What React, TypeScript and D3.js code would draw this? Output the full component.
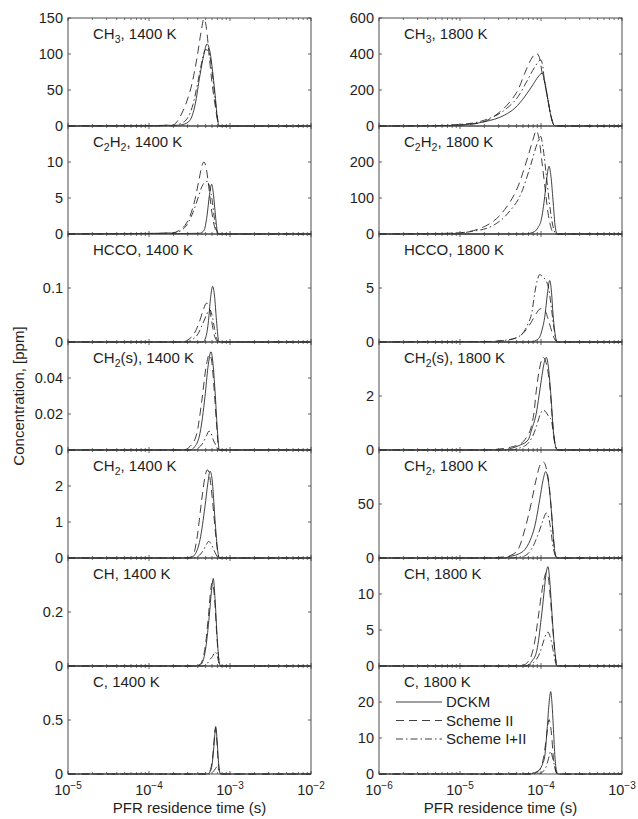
import React from "react";
import * as d3 from "d3";

// time points are log10(t / s), values are concentrations in ppm
const species = ["CH_3", "C_2H_2", "HCCO", "CH_2(s)", "CH_2", "CH", "C"];
const temps = ["1400 K", "1800 K"];
const decades1400 = [-5, -4, -3, -2];
const decades1800 = [-6, -5, -4, -3];
const yMax1400 = [150, 15, 0.2, 0.06, 3, 0.4, 1];
const yMax1800 = [600, 300, 10, 4, 100, 15, 30];
const yTicks1400 = [[0, 50, 100, 150], [0, 5, 10], [0, 0.1], [0, 0.02, 0.04], [0, 1, 2], [0, 0.2], [0, 0.5]];
const yTicks1800 = [[0, 200, 400, 600], [0, 100, 200], [0, 5], [0, 2], [0, 50], [0, 5, 10], [0, 10, 20]];
const seriesNames = ["DCKM", "Scheme II", "Scheme I+II"];

type Pt = [number, number];

// ---- 1400 K ----
const ch3_1400_dckm: Pt[] = [[-3.864, 0.3], [-3.778, 1.2], [-3.704, 0.6], [-3.642, 1], [-3.58, 2], [-3.494, 8], [-3.432, 29], [-3.37, 71], [-3.321, 100], [-3.284, 114], [-3.247, 103], [-3.21, 71], [-3.179, 38], [-3.157, 12], [-3.132, 0]];
const ch3_1400_s2: Pt[] = [[-3.716, 1], [-3.654, 6], [-3.593, 18], [-3.531, 35], [-3.469, 59], [-3.407, 95], [-3.358, 130], [-3.321, 149], [-3.29, 135], [-3.259, 100], [-3.222, 60], [-3.185, 30], [-3.154, 8], [-3.13, 0]];
const ch3_1400_s12: Pt[] = [[-3.716, 0.5], [-3.617, 3], [-3.531, 10], [-3.457, 30], [-3.395, 62], [-3.346, 90], [-3.302, 106], [-3.272, 105], [-3.235, 88], [-3.198, 52], [-3.16, 15], [-3.132, 0]];

const c2h2_1400_dckm: Pt[] = [[-3.864, 0.1], [-3.765, 0.15], [-3.679, 0.05], [-3.37, 0.1], [-3.321, 0.5], [-3.284, 2.5], [-3.253, 5.5], [-3.226, 6.9], [-3.204, 5.5], [-3.179, 2.5], [-3.154, 0.3], [-3.136, 0]];
const c2h2_1400_s2: Pt[] = [[-3.741, 0.1], [-3.642, 0.4], [-3.556, 1.2], [-3.494, 2.5], [-3.432, 4.8], [-3.383, 7.5], [-3.346, 9.5], [-3.321, 10], [-3.296, 9.3], [-3.272, 7.5], [-3.241, 4.5], [-3.21, 2], [-3.179, 0.6], [-3.148, 0]];
const c2h2_1400_s12: Pt[] = [[-3.716, 0.1], [-3.617, 0.4], [-3.531, 1.3], [-3.457, 3], [-3.395, 5], [-3.346, 6.6], [-3.309, 7.2], [-3.278, 7.3], [-3.247, 6.3], [-3.222, 4.8], [-3.198, 2.6], [-3.173, 0.8], [-3.148, 0]];

const hcco_1400_dckm: Pt[] = [[-3.333, 0], [-3.296, 0.01], [-3.265, 0.04], [-3.241, 0.08], [-3.214, 0.103], [-3.191, 0.085], [-3.167, 0.04], [-3.144, 0.005], [-3.13, 0]];
const hcco_1400_s2: Pt[] = [[-3.58, 0], [-3.519, 0.004], [-3.444, 0.015], [-3.383, 0.035], [-3.333, 0.058], [-3.29, 0.072], [-3.259, 0.065], [-3.228, 0.04], [-3.198, 0.015], [-3.167, 0.003], [-3.148, 0]];
const hcco_1400_s12: Pt[] = [[-3.543, 0], [-3.469, 0.004], [-3.395, 0.015], [-3.333, 0.035], [-3.284, 0.052], [-3.253, 0.06], [-3.222, 0.05], [-3.191, 0.025], [-3.16, 0.005], [-3.136, 0]];

const ch2s_1400_dckm: Pt[] = [[-3.494, 0], [-3.432, 0.002], [-3.37, 0.0094], [-3.309, 0.0296], [-3.272, 0.046], [-3.235, 0.0546], [-3.21, 0.048], [-3.185, 0.033], [-3.157, 0.012], [-3.132, 0]];
const ch2s_1400_s2: Pt[] = [[-3.58, 0], [-3.494, 0.002], [-3.411, 0.009], [-3.349, 0.027], [-3.296, 0.046], [-3.256, 0.053], [-3.228, 0.05], [-3.198, 0.035], [-3.167, 0.015], [-3.136, 0]];
const ch2s_1400_s12: Pt[] = [[-3.457, 0], [-3.395, 0.001], [-3.333, 0.004], [-3.29, 0.008], [-3.259, 0.0105], [-3.235, 0.0095], [-3.21, 0.006], [-3.179, 0.003], [-3.142, 0]];

const ch2_1400_dckm: Pt[] = [[-3.494, 0], [-3.432, 0.1], [-3.37, 0.51], [-3.309, 1.43], [-3.272, 2.1], [-3.247, 2.41], [-3.222, 2.2], [-3.185, 1.06], [-3.157, 0.3], [-3.132, 0]];
const ch2_1400_s2: Pt[] = [[-3.556, 0], [-3.461, 0.05], [-3.411, 0.5], [-3.349, 1.62], [-3.309, 2.25], [-3.28, 2.45], [-3.253, 2.3], [-3.216, 1.6], [-3.179, 0.7], [-3.142, 0.05], [-3.13, 0]];
const ch2_1400_s12: Pt[] = [[-3.444, 0], [-3.391, 0.05], [-3.333, 0.2], [-3.29, 0.38], [-3.265, 0.46], [-3.235, 0.4], [-3.204, 0.25], [-3.173, 0.1], [-3.142, 0]];

const ch_1400_dckm: Pt[] = [[-3.407, 0], [-3.362, 0.005], [-3.327, 0.025], [-3.296, 0.074], [-3.256, 0.185], [-3.228, 0.28], [-3.206, 0.324], [-3.185, 0.25], [-3.157, 0.1], [-3.136, 0.02], [-3.117, 0]];
const ch_1400_s2: Pt[] = [[-3.42, 0], [-3.37, 0.006], [-3.333, 0.03], [-3.302, 0.08], [-3.265, 0.19], [-3.235, 0.29], [-3.216, 0.31], [-3.191, 0.25], [-3.16, 0.1], [-3.136, 0.02], [-3.117, 0]];
const ch_1400_s12: Pt[] = [[-3.333, 0], [-3.284, 0.008], [-3.247, 0.025], [-3.216, 0.035], [-3.185, 0.052], [-3.16, 0.04], [-3.136, 0.01], [-3.117, 0]];

const c_1400_dckm: Pt[] = [[-3.296, 0], [-3.265, 0.005], [-3.247, 0.02], [-3.228, 0.06], [-3.214, 0.13], [-3.194, 0.3], [-3.177, 0.44], [-3.16, 0.32], [-3.144, 0.13], [-3.13, 0.03], [-3.115, 0]];
const c_1400_s2: Pt[] = [[-3.302, 0], [-3.272, 0.006], [-3.249, 0.025], [-3.231, 0.07], [-3.216, 0.14], [-3.198, 0.3], [-3.179, 0.42], [-3.163, 0.31], [-3.146, 0.12], [-3.13, 0.02], [-3.115, 0]];
const c_1400_s12: Pt[] = [[-3.247, 0], [-3.21, 0.02], [-3.179, 0.05], [-3.157, 0.07], [-3.136, 0.03], [-3.115, 0]];

// ---- 1800 K ----
const ch3_1800_dckm: Pt[] = [[-5.519, 0.2], [-5.312, 1], [-5.025, 5], [-4.695, 24], [-4.448, 61], [-4.321, 100], [-4.201, 163], [-4.099, 230], [-4.037, 272], [-3.988, 293], [-3.944, 225], [-3.914, 144], [-3.877, 55], [-3.84, 5], [-3.815, 0]];
const ch3_1800_s2: Pt[] = [[-5.519, 0.5], [-5.111, 3], [-4.778, 15], [-4.531, 70], [-4.367, 144], [-4.284, 200], [-4.201, 293], [-4.123, 370], [-4.058, 404], [-4.019, 380], [-3.988, 300], [-3.951, 235], [-3.914, 144], [-3.877, 55], [-3.84, 5], [-3.815, 0]];
const ch3_1800_s12: Pt[] = [[-5.519, 0.3], [-4.942, 11], [-4.695, 33], [-4.448, 89], [-4.284, 163], [-4.16, 260], [-4.074, 330], [-4.004, 367], [-3.981, 340], [-3.957, 250], [-3.914, 144], [-3.877, 55], [-3.84, 5], [-3.815, 0]];

const c2h2_1800_dckm: Pt[] = [[-4.198, 0], [-4.078, 7], [-4.037, 18], [-3.996, 40], [-3.954, 104], [-3.926, 160], [-3.901, 188], [-3.877, 160], [-3.852, 95], [-3.827, 25], [-3.808, 3], [-3.79, 0]];
const c2h2_1800_s2: Pt[] = [[-5.519, 0.5], [-5.025, 3], [-4.695, 21], [-4.448, 68], [-4.284, 132], [-4.16, 216], [-4.099, 262], [-4.058, 287], [-4.025, 265], [-3.988, 200], [-3.951, 130], [-3.914, 60], [-3.877, 18], [-3.84, 2], [-3.815, 0]];
const c2h2_1800_s12: Pt[] = [[-5.123, 1], [-4.86, 7], [-4.614, 21], [-4.407, 58], [-4.243, 114], [-4.12, 197], [-4.049, 250], [-4.004, 271], [-3.975, 240], [-3.938, 170], [-3.901, 95], [-3.864, 35], [-3.827, 4], [-3.802, 0]];

const hcco_1800_dckm: Pt[] = [[-4.123, 0], [-4.062, 0.15], [-4.016, 0.46], [-3.981, 1.3], [-3.954, 2.3], [-3.92, 4.5], [-3.893, 5.7], [-3.87, 4.6], [-3.852, 2.6], [-3.827, 0.8], [-3.811, 0.15], [-3.79, 0]];
const hcco_1800_s2: Pt[] = [[-4.614, 0.05], [-4.444, 0.15], [-4.284, 0.45], [-4.198, 1], [-4.123, 1.8], [-4.062, 2.6], [-4.0, 3.1], [-3.951, 2.9], [-3.907, 2], [-3.864, 0.9], [-3.827, 0.2], [-3.802, 0]];
const hcco_1800_s12: Pt[] = [[-4.614, 0.05], [-4.448, 0.15], [-4.284, 0.46], [-4.16, 1.7], [-4.111, 2.8], [-4.078, 4.5], [-4.043, 5.8], [-4.016, 6.24], [-3.975, 6.0], [-3.932, 5.6], [-3.901, 4.8], [-3.873, 3.2], [-3.846, 1.6], [-3.821, 0.4], [-3.802, 0]];

const ch2s_1800_dckm: Pt[] = [[-4.444, 0], [-4.367, 0.06], [-4.259, 0.18], [-4.16, 0.37], [-4.111, 0.8], [-4.058, 1.36], [-4.025, 2.0], [-3.996, 2.59], [-3.963, 3.2], [-3.935, 3.43], [-3.914, 3.2], [-3.893, 2.59], [-3.87, 1.7], [-3.852, 0.86], [-3.827, 0.25], [-3.811, 0.05], [-3.79, 0]];
const ch2s_1800_s2: Pt[] = [[-4.753, 0], [-4.531, 0.03], [-4.383, 0.1], [-4.243, 0.25], [-4.173, 0.5], [-4.12, 0.86], [-4.086, 1.4], [-4.058, 2.2], [-4.019, 3.0], [-3.975, 3.43], [-3.944, 3.3], [-3.914, 2.9], [-3.889, 2.3], [-3.864, 1.3], [-3.84, 0.5], [-3.815, 0.1], [-3.79, 0]];
const ch2s_1800_s12: Pt[] = [[-4.383, 0], [-4.259, 0.08], [-4.16, 0.25], [-4.105, 0.5], [-4.058, 0.86], [-4.012, 1.3], [-3.975, 1.48], [-3.938, 1.4], [-3.907, 1.25], [-3.873, 1.1], [-3.846, 0.6], [-3.823, 0.1], [-3.802, 0]];

const ch2_1800_dckm: Pt[] = [[-4.444, 0], [-4.407, 1], [-4.284, 3.5], [-4.201, 7.7], [-4.136, 16], [-4.078, 29], [-4.016, 54], [-3.975, 72], [-3.942, 80], [-3.907, 70], [-3.873, 45], [-3.846, 18], [-3.823, 3], [-3.799, 0]];
const ch2_1800_s2: Pt[] = [[-4.753, 0], [-4.614, 0.3], [-4.448, 1], [-4.358, 3], [-4.284, 7.7], [-4.201, 26], [-4.12, 51], [-4.062, 72], [-4.012, 86], [-3.972, 89], [-3.938, 84], [-3.901, 68], [-3.873, 45], [-3.846, 18], [-3.823, 3], [-3.799, 0]];
const ch2_1800_s12: Pt[] = [[-4.383, 0], [-4.259, 1], [-4.201, 2], [-4.148, 5], [-4.099, 10.7], [-4.056, 18], [-4.016, 26], [-3.975, 35], [-3.935, 41.7], [-3.901, 36], [-3.877, 25], [-3.852, 10.7], [-3.827, 3], [-3.802, 0]];

const ch_1800_dckm: Pt[] = [[-4.21, 0], [-4.16, 0.1], [-4.111, 0.7], [-4.058, 1.86], [-4.031, 3.5], [-4.004, 6], [-3.981, 8.2], [-3.963, 10.2], [-3.938, 12.8], [-3.914, 13.8], [-3.893, 12], [-3.873, 8.8], [-3.852, 5.2], [-3.831, 2.3], [-3.815, 0.6], [-3.799, 0]];
const ch_1800_s2: Pt[] = [[-4.321, 0], [-4.259, 0.05], [-4.201, 0.2], [-4.16, 0.6], [-4.12, 1.4], [-4.08, 3.2], [-4.037, 6.5], [-3.994, 10], [-3.963, 12], [-3.935, 13], [-3.91, 12.3], [-3.885, 9.5], [-3.86, 6], [-3.836, 2.8], [-3.815, 0.7], [-3.799, 0]];
const ch_1800_s12: Pt[] = [[-4.198, 0], [-4.136, 0.15], [-4.099, 0.4], [-4.058, 0.9], [-4.012, 1.9], [-3.975, 3.2], [-3.938, 4.4], [-3.914, 4.7], [-3.883, 3.9], [-3.852, 2.3], [-3.827, 0.8], [-3.802, 0]];

const c_1800_dckm: Pt[] = [[-4.136, 0], [-4.099, 0.2], [-4.056, 0.6], [-4.016, 1.2], [-3.981, 2.8], [-3.954, 4.9], [-3.922, 13.2], [-3.899, 20], [-3.88, 22.9], [-3.864, 19.5], [-3.848, 13.2], [-3.83, 5.5], [-3.811, 1.2], [-3.79, 0]];
const c_1800_s2: Pt[] = [[-4.16, 0], [-4.078, 0.2], [-4.037, 0.8], [-3.996, 2.1], [-3.969, 4.5], [-3.942, 8.6], [-3.92, 12.5], [-3.901, 15.1], [-3.883, 13.5], [-3.864, 9.5], [-3.852, 5.8], [-3.83, 2], [-3.811, 0.3], [-3.79, 0]];
const c_1800_s12: Pt[] = [[-4.111, 0], [-4.037, 0.15], [-3.996, 0.3], [-3.963, 1], [-3.935, 2.1], [-3.907, 4.3], [-3.88, 6.3], [-3.858, 4.6], [-3.831, 2.1], [-3.811, 0.5], [-3.796, 0]];

const data1400 = [
  [ch3_1400_dckm, ch3_1400_s2, ch3_1400_s12],
  [c2h2_1400_dckm, c2h2_1400_s2, c2h2_1400_s12],
  [hcco_1400_dckm, hcco_1400_s2, hcco_1400_s12],
  [ch2s_1400_dckm, ch2s_1400_s2, ch2s_1400_s12],
  [ch2_1400_dckm, ch2_1400_s2, ch2_1400_s12],
  [ch_1400_dckm, ch_1400_s2, ch_1400_s12],
  [c_1400_dckm, c_1400_s2, c_1400_s12],
];
const data1800 = [
  [ch3_1800_dckm, ch3_1800_s2, ch3_1800_s12],
  [c2h2_1800_dckm, c2h2_1800_s2, c2h2_1800_s12],
  [hcco_1800_dckm, hcco_1800_s2, hcco_1800_s12],
  [ch2s_1800_dckm, ch2s_1800_s2, ch2s_1800_s12],
  [ch2_1800_dckm, ch2_1800_s2, ch2_1800_s12],
  [ch_1800_dckm, ch_1800_s2, ch_1800_s12],
  [c_1800_dckm, c_1800_s2, c_1800_s12],
];

const W = 638;
const H = 819;
const panelW = 243;
const panelH = 108;
const top0 = 18;
const colLeft = [68, 379];
const font = "'Liberation Sans', Arial, Helvetica, sans-serif";
const ink = "#1e1e1e";
const dashes = [undefined, "8,5", "7,3,1.5,3"];

function Label({ x, y, name, temp }: { x: number; y: number; name: string; temp: string }) {
  // "_2" means subscript 2
  const parts = name.split(/_(\d)/);
  const out: React.ReactNode[] = [];
  let shifted = false;
  parts.forEach((p, i) => {
    if (!p) return;
    if (i % 2 === 1) {
      out.push(<tspan key={i} dy={4} fontSize={10.5}>{p}</tspan>);
      shifted = true;
    } else {
      out.push(<tspan key={i} dy={shifted ? -4 : 0}>{p}</tspan>);
      shifted = false;
    }
  });
  out.push(<tspan key="t" dy={shifted ? -4 : 0}>{", " + temp}</tspan>);
  return (
    <text x={x} y={y} fontSize={15} fill={ink} fontFamily={font}>
      {out}
    </text>
  );
}

function Panel(props: {
  x0: number; y0: number; decades: number[]; yMax: number; yTicks: number[];
  name: string; temp: string; series: Pt[][]; bottom: boolean; legend: boolean;
}) {
  const { x0, y0, decades, yMax, yTicks, name, temp, series, bottom, legend } = props;
  const dMin = decades[0];
  const dMax = decades[decades.length - 1];
  const x = d3.scaleLog().domain([10 ** dMin, 10 ** dMax]).range([x0, x0 + panelW]);
  const y = d3.scaleLinear().domain([0, yMax]).range([y0 + panelH, y0]);
  const line = d3
    .line<Pt>()
    .x((d) => x(10 ** d[0]))
    .y((d) => y(d[1]))
    .curve(d3.curveMonotoneX);

  const minor: number[] = [];
  decades.slice(0, -1).forEach((d) => {
    for (let k = 2; k <= 9; k++) minor.push(k * 10 ** d);
  });

  return (
    <g>
      {series.map((s, i) => (
        <path
          key={i}
          d={line([[dMin, 0] as Pt, ...s, [dMax, 0] as Pt]) || ""}
          fill="none"
          stroke={ink}
          strokeWidth={0.85}
          strokeDasharray={dashes[i]}
        />
      ))}
      <rect x={x0} y={y0} width={panelW} height={panelH} fill="none" stroke="#3a3a3a" strokeWidth={0.9} />
      {yTicks.map((t) => (
        <g key={t}>
          <line x1={x0} x2={x0 + 3} y1={y(t)} y2={y(t)} stroke="#3a3a3a" strokeWidth={0.8} />
          <line x1={x0 + panelW} x2={x0 + panelW - 3} y1={y(t)} y2={y(t)} stroke="#3a3a3a" strokeWidth={0.8} />
          <text x={x0 - 5} y={y(t)} dy="0.35em" textAnchor="end" fontSize={14.5} fill={ink} fontFamily={font}>
            {String(t)}
          </text>
        </g>
      ))}
      {decades.map((d) => (
        <g key={d}>
          <line x1={x(10 ** d)} x2={x(10 ** d)} y1={y0 + panelH} y2={y0 + panelH - 3} stroke="#3a3a3a" strokeWidth={0.8} />
          <line x1={x(10 ** d)} x2={x(10 ** d)} y1={y0} y2={y0 + 3} stroke="#3a3a3a" strokeWidth={0.8} />
        </g>
      ))}
      {minor.map((m) => (
        <g key={m}>
          <line x1={x(m)} x2={x(m)} y1={y0 + panelH} y2={y0 + panelH - 2} stroke="#3a3a3a" strokeWidth={0.7} />
          <line x1={x(m)} x2={x(m)} y1={y0} y2={y0 + 2} stroke="#3a3a3a" strokeWidth={0.7} />
        </g>
      ))}
      {bottom &&
        decades.map((d) => (
          <text key={d} x={x(10 ** d)} y={y0 + panelH + 21} textAnchor="middle" fontSize={14.5} fill={ink} fontFamily={font}>
            <tspan>10</tspan>
            <tspan dy={-6} fontSize={10}>{"\u2212" + Math.abs(d)}</tspan>
          </text>
        ))}
      <Label x={x0 + 25} y={y0 + 21} name={name} temp={temp} />
      {legend &&
        seriesNames.map((n, i) => (
          <g key={n}>
            <line x1={x0 + 17} x2={x0 + 63} y1={y0 + 36 + i * 18.5} y2={y0 + 36 + i * 18.5} stroke={ink} strokeWidth={0.85} strokeDasharray={dashes[i]} />
            <text x={x0 + 67} y={y0 + 36 + i * 18.5} dy="0.35em" fontSize={15} fill={ink} fontFamily={font}>
              {n}
            </text>
          </g>
        ))}
    </g>
  );
}

export default function App() {
  const cols = [
    { decades: decades1400, yMax: yMax1400, yTicks: yTicks1400, data: data1400, temp: temps[0] },
    { decades: decades1800, yMax: yMax1800, yTicks: yTicks1800, data: data1800, temp: temps[1] },
  ];
  return (
    <svg width={W} height={H} style={{ position: "absolute", left: 0, top: 0, background: "#fff" }}>
      <rect width={W} height={H} fill="#fff" />
      {cols.map((c, ci) =>
        species.map((sp, ri) => (
          <Panel
            key={ci + "-" + ri}
            x0={colLeft[ci]}
            y0={top0 + ri * panelH}
            decades={c.decades}
            yMax={c.yMax[ri]}
            yTicks={c.yTicks[ri]}
            name={sp}
            temp={c.temp}
            series={c.data[ri]}
            bottom={ri === species.length - 1}
            legend={ci === 1 && ri === species.length - 1}
          />
        ))
      )}
      {colLeft.map((x0) => (
        <text key={x0} x={x0 + panelW / 2} y={813} textAnchor="middle" fontSize={15} fill={ink} fontFamily={font}>
          PFR residence time (s)
        </text>
      ))}
      <text transform={`translate(24,${top0 + (7 * panelH) / 2}) rotate(-90)`} textAnchor="middle" fontSize={15} fill={ink} fontFamily={font}>
        Concentration, [ppm]
      </text>
    </svg>
  );
}
